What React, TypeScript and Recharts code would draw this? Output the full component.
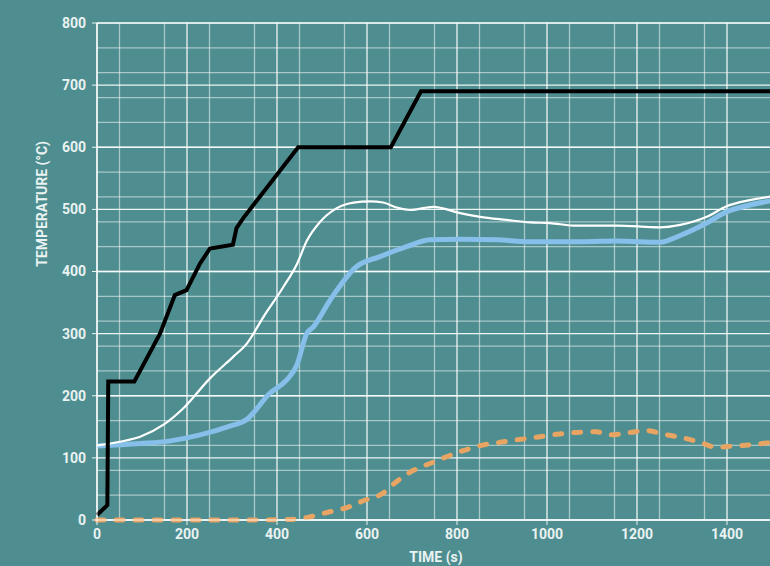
import React from 'react'
import { LineChart, Line, XAxis, YAxis, CartesianGrid } from 'recharts'

// furnace / oven setpoint
const furnace = [
  { t: 0, v: 8 }, { t: 23, v: 24 }, { t: 25, v: 223 }, { t: 83, v: 223 },
  { t: 140, v: 300 }, { t: 173, v: 362 }, { t: 199, v: 370 }, { t: 229, v: 413 },
  { t: 251, v: 437 }, { t: 302, v: 443 }, { t: 310, v: 470 }, { t: 325, v: 486 },
  { t: 447, v: 600 }, { t: 653, v: 600 }, { t: 720, v: 690 }, { t: 1500, v: 690 },
]

// surface temperature (thin white)
const surface = [
  { t: 0, v: 120 }, { t: 51, v: 126 }, { t: 96, v: 134 }, { t: 147, v: 153 },
  { t: 192, v: 180 }, { t: 251, v: 228 }, { t: 303, v: 263 }, { t: 333, v: 284 },
  { t: 370, v: 327 }, { t: 414, v: 375 }, { t: 445, v: 413 }, { t: 466, v: 449 },
  { t: 496, v: 480 }, { t: 533, v: 502 }, { t: 570, v: 511 }, { t: 607, v: 513 },
  { t: 636, v: 511 }, { t: 666, v: 503 }, { t: 696, v: 499 }, { t: 747, v: 504 },
  { t: 807, v: 494 }, { t: 851, v: 488 }, { t: 910, v: 483 }, { t: 962, v: 479 },
  { t: 1007, v: 478 }, { t: 1059, v: 474 }, { t: 1155, v: 474 }, { t: 1251, v: 471 },
  { t: 1296, v: 475 }, { t: 1355, v: 488 }, { t: 1399, v: 505 }, { t: 1451, v: 515 },
  { t: 1500, v: 521 },
]

// core temperature (thick blue)
const core = [
  { t: 0, v: 119 }, { t: 96, v: 123 }, { t: 160, v: 127 }, { t: 229, v: 137 },
  { t: 290, v: 150 }, { t: 333, v: 162 }, { t: 384, v: 204 }, { t: 421, v: 225 },
  { t: 444, v: 249 }, { t: 466, v: 300 }, { t: 481, v: 311 }, { t: 518, v: 354 },
  { t: 577, v: 408 }, { t: 629, v: 424 }, { t: 688, v: 440 }, { t: 740, v: 451 },
  { t: 807, v: 452 }, { t: 888, v: 451 }, { t: 962, v: 448 }, { t: 1081, v: 448 },
  { t: 1155, v: 449 }, { t: 1251, v: 447 }, { t: 1296, v: 458 }, { t: 1355, v: 478 },
  { t: 1399, v: 496 }, { t: 1451, v: 507 }, { t: 1500, v: 514 },
]

// difference (orange dashed)
const diff = [
  { t: 0, v: 0 }, { t: 200, v: 0 }, { t: 340, v: 0 }, { t: 429, v: 1 },
  { t: 473, v: 5 }, { t: 510, v: 12 }, { t: 555, v: 20 }, { t: 592, v: 31 },
  { t: 633, v: 42 }, { t: 666, v: 62 }, { t: 696, v: 77 }, { t: 747, v: 93 },
  { t: 807, v: 110 }, { t: 859, v: 121 }, { t: 896, v: 125 }, { t: 933, v: 129 },
  { t: 984, v: 134 }, { t: 1022, v: 138 }, { t: 1066, v: 141 }, { t: 1110, v: 142 },
  { t: 1140, v: 137 }, { t: 1184, v: 141 }, { t: 1221, v: 144 }, { t: 1259, v: 138 },
  { t: 1303, v: 132 }, { t: 1340, v: 125 }, { t: 1377, v: 117 }, { t: 1414, v: 119 },
  { t: 1451, v: 121 }, { t: 1500, v: 125 },
]

const xTicks = [0, 200, 400, 600, 800, 1000, 1200, 1400]
const yTicks = [0, 100, 200, 300, 400, 500, 600, 700, 800]
const xMinor = Array.from({ length: 31 }, (_, i) => i * 50)
const yMinor = Array.from({ length: 41 }, (_, i) => i * 20)

const BG = '#4E8E90'
const TXT = '#EAF2F2'
const font = 'Roboto, "Noto Sans", sans-serif'

const tickStyle = { fill: TXT, fontSize: 14, fontWeight: 700, fontFamily: font }

export default function App() {
  return (
    <div style={{ position: 'absolute', left: 0, top: 0, width: 770, height: 566, overflow: 'hidden', background: BG }}>
      <LineChart width={772} height={566} margin={{ top: 23, right: 0, left: 0, bottom: 0 }}>
        <CartesianGrid horizontalValues={yMinor} verticalValues={xMinor} stroke="#FFFFFF" strokeOpacity={0.5} strokeWidth={1.3} />
        <CartesianGrid horizontalValues={yTicks} verticalValues={xTicks} stroke="#FFFFFF" strokeOpacity={0.9} strokeWidth={1.3} />
        <XAxis
          type="number" dataKey="t" domain={[0, 1500]} ticks={xTicks} height={46}
          tick={tickStyle} tickSize={5} tickMargin={4}
          stroke="#FFFFFF" strokeOpacity={0.9}
          label={{
            content: () => (
              <text x={436} y={562} textAnchor="middle" fill={TXT} fontSize={14} fontWeight={700} fontFamily={font}>
                TIME (s)
              </text>
            ),
          }}
        />
        <YAxis
          type="number" dataKey="v" domain={[0, 800]} ticks={yTicks} width={97}
          tick={tickStyle} tickSize={5} tickMargin={6}
          stroke="#FFFFFF" strokeOpacity={0.9}
          label={{
            content: () => (
              <text x={42} y={204} dy={5} transform="rotate(-90 42 204)" textAnchor="middle" fill={TXT} fontSize={14} fontWeight={700} fontFamily={font}>
                TEMPERATURE (°C)
              </text>
            ),
          }}
        />
        <Line data={diff} dataKey="v" type="monotone" stroke="#E8A462" strokeWidth={5} strokeDasharray="7 12" strokeLinecap="round" dot={false} isAnimationActive={false} />
        <Line data={core} dataKey="v" type="monotone" stroke="#86BFE9" strokeWidth={5} dot={false} isAnimationActive={false} />
        <Line data={surface} dataKey="v" type="monotone" stroke="#FFFFFF" strokeWidth={2.2} dot={false} isAnimationActive={false} />
        <Line data={furnace} dataKey="v" type="linear" stroke="#000000" strokeWidth={4} dot={false} isAnimationActive={false} />
      </LineChart>
    </div>
  )
}
